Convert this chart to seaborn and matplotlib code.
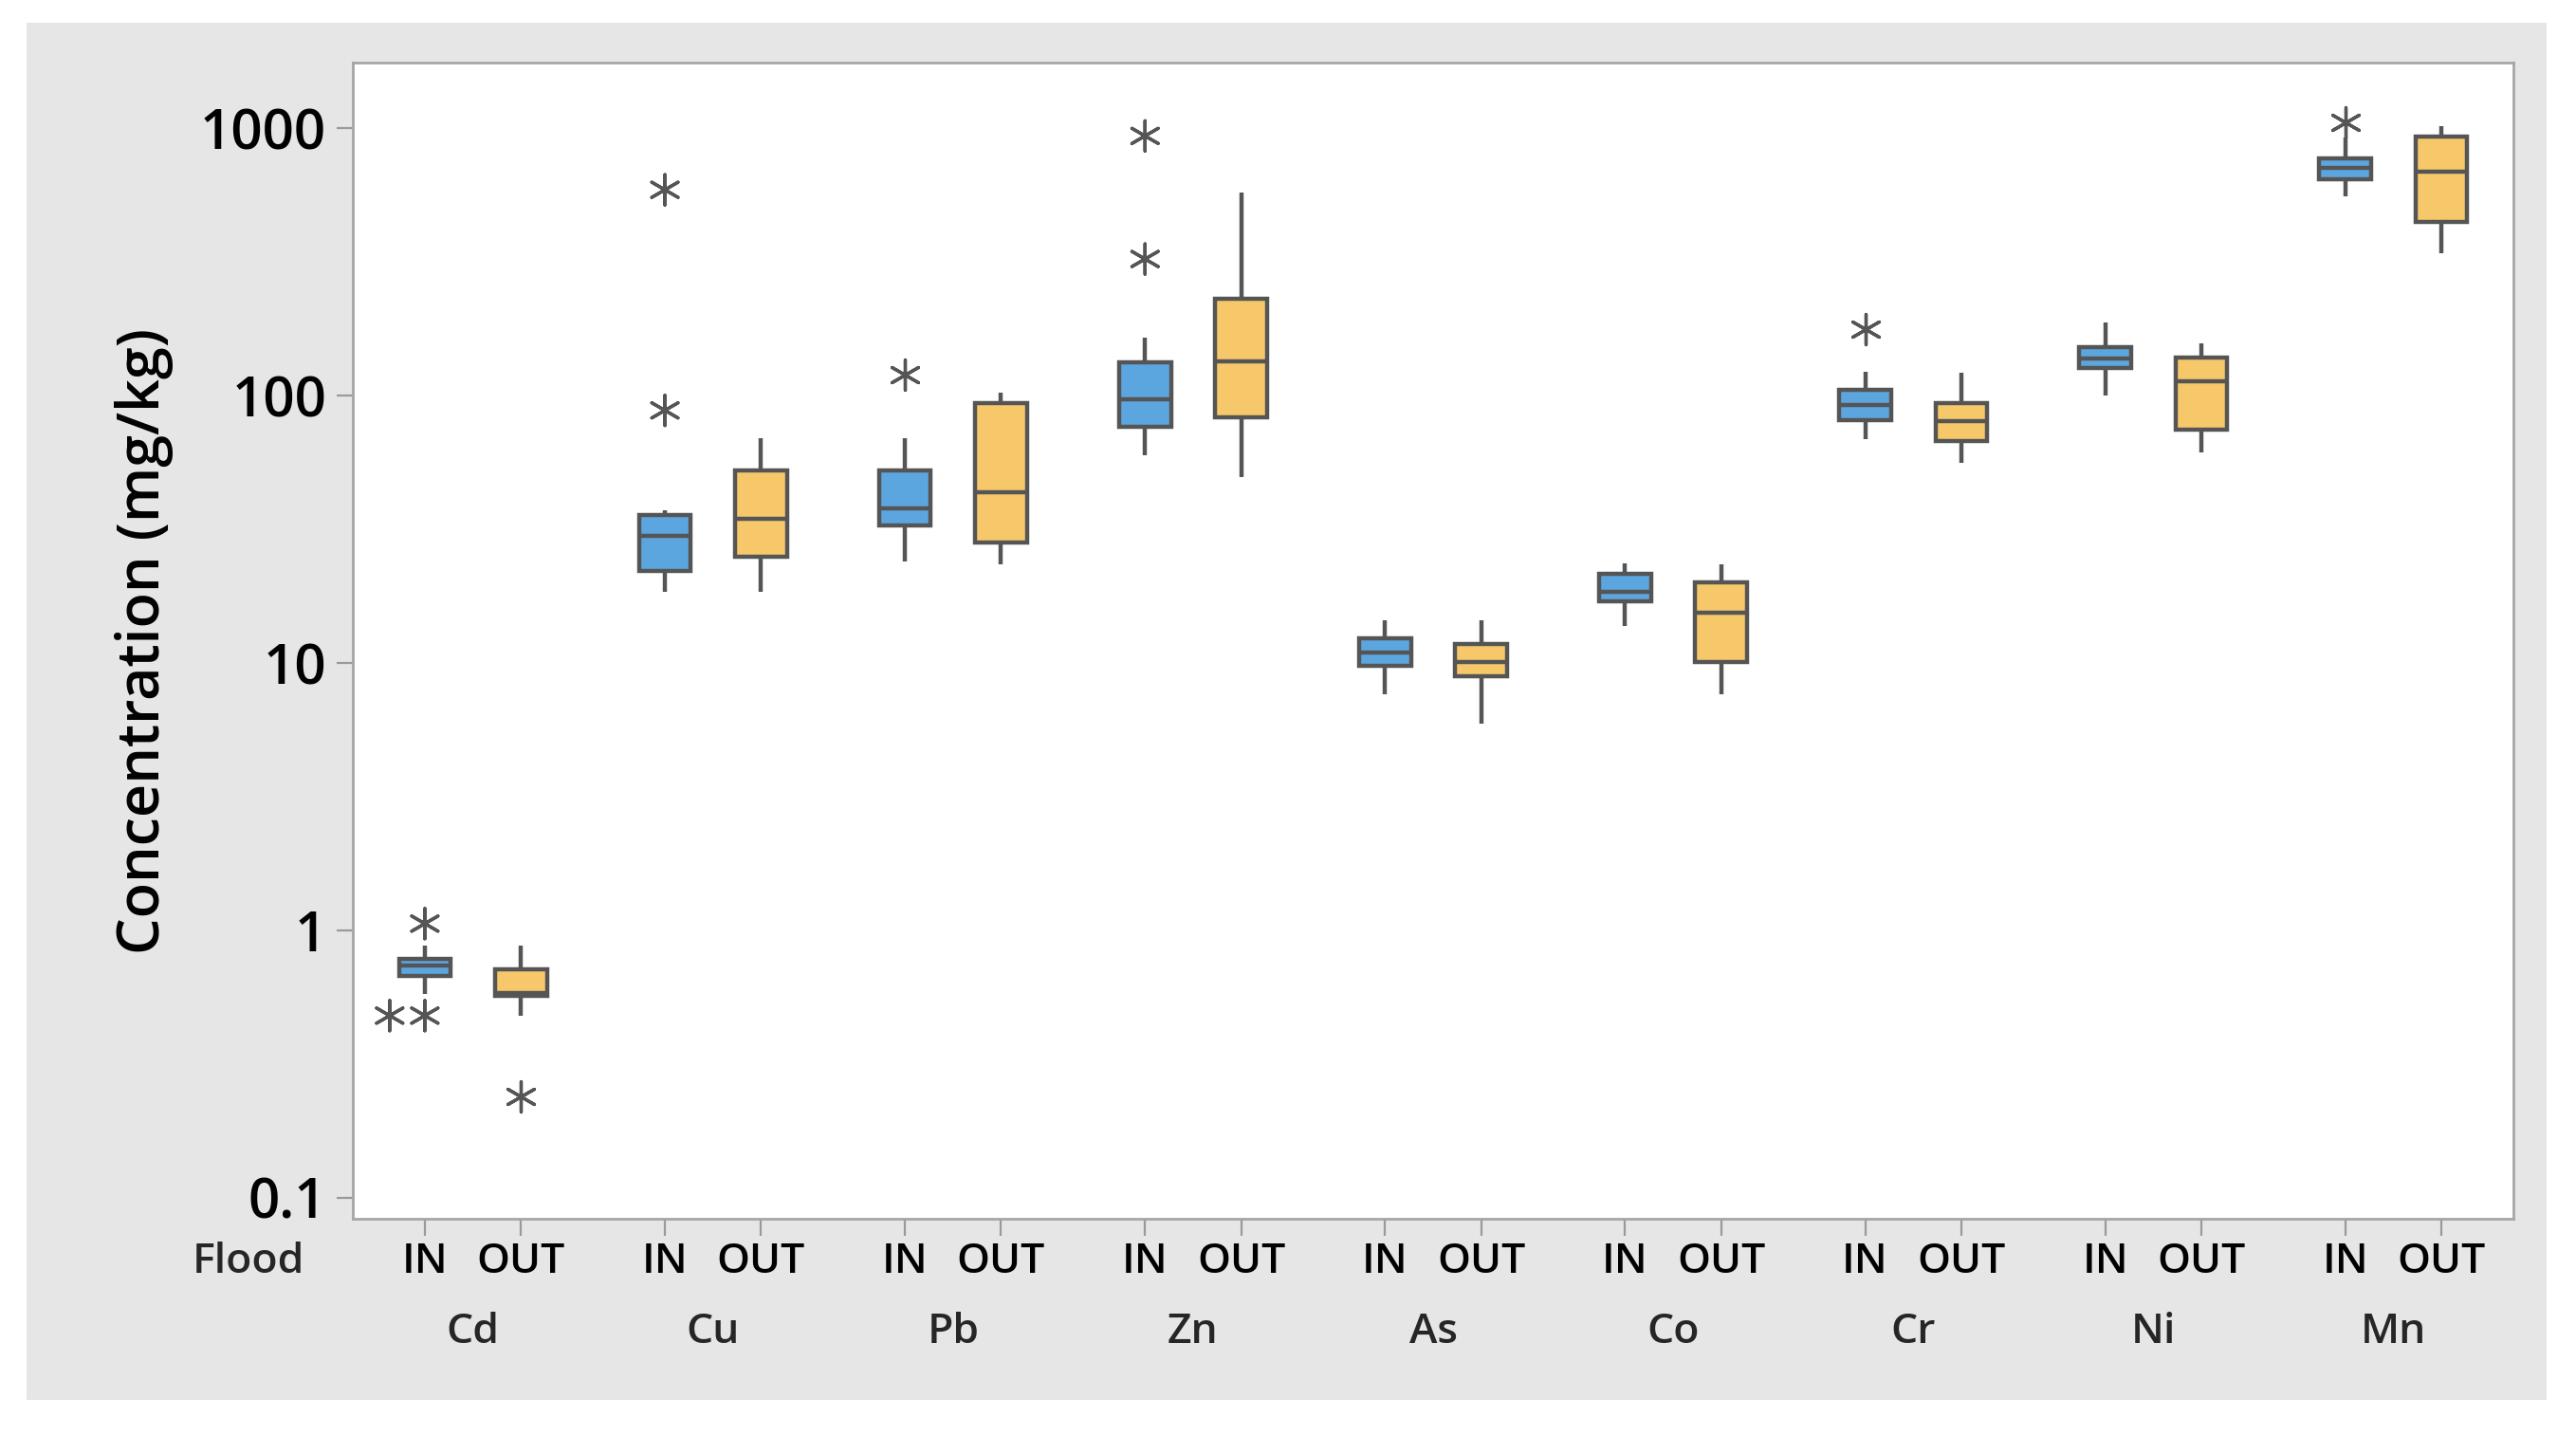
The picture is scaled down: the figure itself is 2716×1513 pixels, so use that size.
import numpy as np
import pandas as pd
import seaborn as sns
import matplotlib.pyplot as plt
from matplotlib.patches import Rectangle
from matplotlib.transforms import blended_transform_factory

# element groups along the x axis
elements = ["Cd", "Cu", "Pb", "Zn", "As", "Co", "Cr", "Ni", "Mn"]
floods = ["IN", "OUT"]

# box summaries (mg/kg): whisker low, Q1, median, Q3, whisker high
in_lo = [0.578, 18.5, 24.0, 59.8, 7.65, 13.7, 68.9, 99.7, 555]
in_q1 = [0.676, 22.1, 32.6, 76.4, 9.78, 17.0, 80.7, 126.4, 644]
in_med = [0.74, 29.8, 37.9, 96.8, 10.9, 18.5, 91.9, 137, 708]
in_q3 = [0.78, 35.8, 52.6, 133, 12.4, 21.5, 105.3, 152, 773]
in_hi = [0.88, 37.2, 69.4, 164, 14.5, 23.6, 123, 187.5, 922]

out_lo = [0.48, 18.5, 23.4, 49.5, 5.91, 7.65, 55.9, 61.1, 341]
out_q1 = [0.569, 25.0, 28.3, 82.8, 8.93, 10.05, 67.6, 74.3, 446]
out_med = [0.585, 34.7, 43.4, 134.5, 10.05, 15.4, 80.2, 113, 689]
out_q3 = [0.714, 52.6, 93.8, 231, 11.8, 20.0, 93.8, 139, 929]
out_hi = [0.88, 69.4, 102.4, 573, 14.5, 23.4, 122, 157, 1014]

# outliers (asterisks)
in_outliers = {"Cd": [1.06, 0.48, 0.48], "Cu": [588, 88], "Pb": [119.7],
               "Zn": [935, 324], "Cr": [176.6], "Mn": [1047]}
out_outliers = {"Cd": [0.24]}

BLUE = "#5ca6df"
YELLOW = "#f6c86a"
LINE = "#555555"
FONT = ["Open Sans", "DejaVu Sans"]

# long table for the boxes
rows = []
for flood, stats in (("IN", (in_lo, in_q1, in_med, in_q3, in_hi)),
                     ("OUT", (out_lo, out_q1, out_med, out_q3, out_hi))):
    for i, el in enumerate(elements):
        for s in stats:
            rows.append({"Element": el, "Flood": flood, "Value": s[i]})
box_df = pd.DataFrame(rows)

out_rows = []
for flood, d in (("IN", in_outliers), ("OUT", out_outliers)):
    for el, vals in d.items():
        for v in vals:
            out_rows.append({"Element": el, "Flood": flood, "Value": v})
out_df = pd.DataFrame(out_rows)

sns.set_theme(style="white")
plt.rcParams["font.family"] = FONT

fig = plt.figure(figsize=(13.58, 7.565), dpi=200, facecolor="white")
W, H = 2716, 1513
fig.patches.append(Rectangle((28 / W, 1 - 1476 / H), (2685 - 28) / W, (1476 - 24) / H,
                             transform=fig.transFigure, facecolor="#e6e6e6",
                             edgecolor="none", zorder=-10))
ax = fig.add_axes([372 / W, 1 - 1285 / H, (2650 - 372) / W, (1285 - 66) / H])
ax.set_zorder(1)
ax.set_facecolor("white")

sns.boxplot(data=box_df, x="Element", y="Value", hue="Flood", order=elements,
            hue_order=floods, palette={"IN": BLUE, "OUT": YELLOW}, saturation=1,
            width=0.8, gap=0.46, whis=(0, 100), showcaps=False, fliersize=0,
            linewidth=1.6, linecolor=LINE, log_scale=True, legend=False, ax=ax)

sns.swarmplot(data=out_df, x="Element", y="Value", hue="Flood", order=elements,
              hue_order=floods, palette={"IN": LINE, "OUT": LINE}, dodge=True,
              marker=(6, 2, 0), size=11.5, linewidth=1.2, edgecolor=LINE,
              legend=False, ax=ax)

ax.set_yscale("log")
ax.set_ylim(0.0835, 1758)
ax.set_xlim(-0.5, 8.5)
ax.set_yticks([0.1, 1, 10, 100, 1000])
ax.set_yticklabels(["0.1", "1", "10", "100", "1000"])
ax.yaxis.set_minor_locator(plt.NullLocator())

xt, xl = [], []
for i, el in enumerate(elements):
    xt += [i - 0.2, i + 0.2]
    xl += floods
ax.set_xticks(xt)
ax.set_xticklabels(xl)

ax.tick_params(axis="y", which="major", length=6, width=0.8, color="#9a9a9a",
               pad=4, labelsize=21, left=True, labelcolor="black")
ax.tick_params(axis="x", which="major", length=6.5, width=0.8, color="#9a9a9a",
               pad=2, labelsize=16, bottom=True, labelcolor="black")
for lab in ax.get_yticklabels() + ax.get_xticklabels():
    lab.set_fontweight("semibold")

ax.set_xlabel("")
ax.set_ylabel("Concentration (mg/kg)", fontsize=22, color="black", fontweight="semibold")
ax.yaxis.set_label_coords(-0.083, 0.5)

for sp in ax.spines.values():
    sp.set_visible(True)
    sp.set_color("#a6a6a6")
    sp.set_linewidth(1.0)

trans = blended_transform_factory(ax.transData, ax.transAxes)
for i, el in enumerate(elements):
    ax.text(i, -0.098, el, transform=trans, ha="center", va="center", fontsize=16,
            fontweight="semibold", clip_on=False)
fig.text(262 / W, 1 - 1330 / H, "Flood", ha="center", va="center", fontsize=16,
         fontweight="semibold")

fig.savefig("out.png", dpi=200, facecolor="white")
